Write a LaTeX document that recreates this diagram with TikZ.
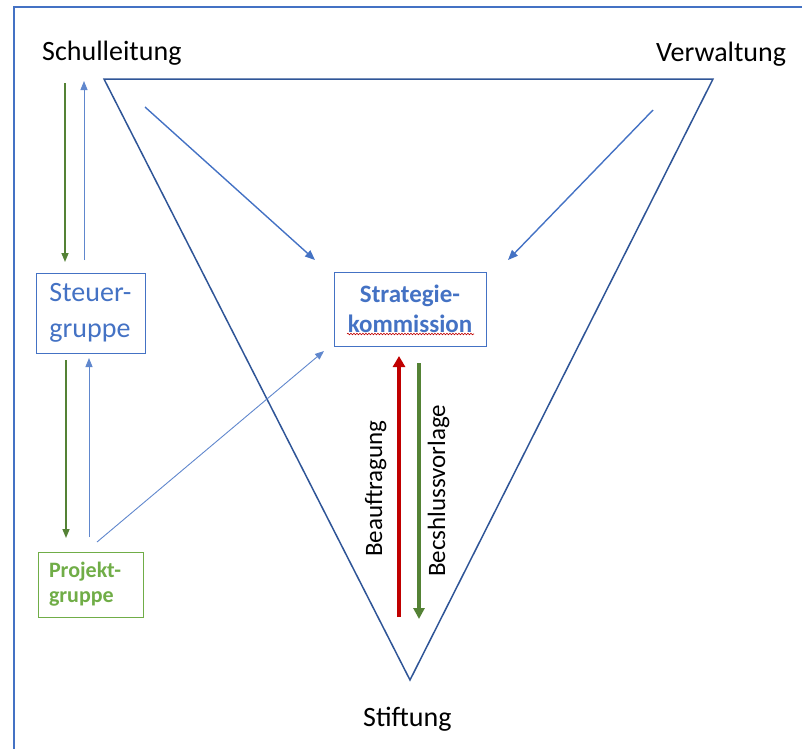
\documentclass[tikz,border=0pt]{standalone}
\usepackage{fontspec}
\setmainfont{Carlito}
\usetikzlibrary{arrows.meta,decorations.pathmorphing}
\definecolor{offblue}{HTML}{4472C4}
\definecolor{tridark}{HTML}{2F5597}
\definecolor{offgreen}{HTML}{548235}
\definecolor{ltgreen}{HTML}{70AD47}
\definecolor{offred}{HTML}{C00000}
\tikzset{
  lbl/.style={inner sep=0pt, font=\fontsize{28}{34}\selectfont, text=black},
  vlbl/.style={inner sep=0pt, font=\fontsize{25}{30}\selectfont, text=black, rotate=90, anchor=base west},
  bluebox/.style={draw=offblue, line width=1pt, inner sep=0pt},
  greenbox/.style={draw=ltgreen, line width=1pt, inner sep=0pt},
  tri/.style={draw=tridark, line width=1.5pt, line join=miter},
  bluearr/.style={draw=offblue, line width=1.4pt, -{Triangle[length=10pt,width=8pt]}},
  thinarr/.style={draw=offblue!85, line width=0.9pt, -{Triangle[length=9pt,width=7pt]}},
  greenarr/.style={draw=offgreen, line width=1.4pt, fill=offgreen, -{Triangle[length=9pt,width=7pt]}},
  redthick/.style={draw=offred, line width=4pt, -{Triangle[length=11pt,width=12pt]}},
  greenthick/.style={draw=offgreen, line width=3.5pt, -{Triangle[length=11pt,width=11pt]}},
}
\begin{document}
\begin{tikzpicture}[x=1pt,y=-1pt]
\useasboundingbox (0,0) rectangle (802,748);
\clip (0,0) rectangle (802,748);
% frame
\draw[draw=offblue, line width=2pt] (830,7) -- (14,7) -- (14,780);
% labels
\node[lbl, anchor=base west] (sl) at (42,60) {Schulleitung};
\node[lbl, anchor=base west] (vw) at (656,61) {Verwaltung};
\node[lbl, anchor=base west] (st) at (363,726) {Stiftung};
% triangle
\coordinate (t1) at (104,79);
\coordinate (t2) at (713,79);
\coordinate (t3) at (410,680);
\draw[tri] (t1) -- (t2) -- (t3) -- cycle;
% boxes
\node[bluebox, minimum width=109pt, minimum height=80pt, align=left, text=offblue,
  font=\fontsize{28}{36}\selectfont] (steuer) at (90.5,313) {Steuer-\\gruppe};
\node[bluebox, minimum width=152pt, minimum height=74pt, align=center, text=offblue,
  font=\bfseries\fontsize{25}{30}\selectfont] (strat) at (410,309) {Strategie-\\kommission};
\node[greenbox, minimum width=105pt, minimum height=65pt, align=left, text=ltgreen,
  text width=83pt, font=\bfseries\fontsize{22}{25}\selectfont] (proj) at (90.5,584.5) {Projekt-\\gruppe};
% spell-check squiggle
\coordinate (sq1) at (347,334);
\coordinate (sq2) at (474,334);
\draw[offred, line width=0.6pt, decorate, decoration={snake, amplitude=0.8pt, segment length=3pt}] (sq1) -- (sq2);
% arrow end points
\coordinate (a1s) at (65,83);   \coordinate (a1e) at (65,262);
\coordinate (a2s) at (84,260);  \coordinate (a2e) at (84,81);
\coordinate (a3s) at (145,107); \coordinate (a3e) at (315,260);
\coordinate (a4s) at (653,110); \coordinate (a4e) at (508,260);
\coordinate (a5s) at (66,360);  \coordinate (a5e) at (66,538);
\coordinate (a6s) at (89,537);  \coordinate (a6e) at (89,358);
\coordinate (a7s) at (97,542);  \coordinate (a7e) at (324,351);
\coordinate (r1s) at (399,617); \coordinate (r1e) at (399,356);
\coordinate (g1s) at (419,363); \coordinate (g1e) at (419,619);
% connectors
\draw[greenarr] (a1s) -- (a1e);
\draw[thinarr] (a2s) -- (a2e);
\draw[bluearr] (a3s) -- (a3e);
\draw[bluearr] (a4s) -- (a4e);
\draw[greenarr] (a5s) -- (a5e);
\draw[thinarr] (a6s) -- (a6e);
\draw[thinarr] (a7s) -- (a7e);
\draw[redthick] (r1s) -- (r1e);
\draw[greenthick] (g1s) -- (g1e);
% vertical labels
\node[vlbl] (beauf) at (382,557) {Beauftragung};
\node[vlbl] (besch) at (445,577) {Becshlussvorlage};
\end{tikzpicture}
\end{document}
